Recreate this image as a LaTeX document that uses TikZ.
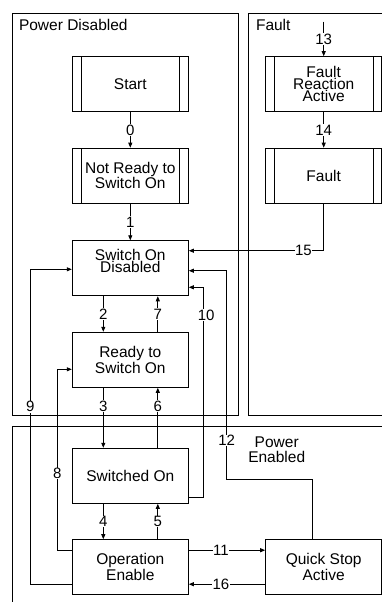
\documentclass[tikz,border=0pt]{standalone}
\usepackage{fontspec}
\setmainfont{Liberation Sans}
\usepackage{xcolor}
\usetikzlibrary{positioning,shapes,arrows.meta,shapes.geometric}

\begin{document}
\begin{tikzpicture}[x=1pt,y=-1pt,
    etat/.style={draw, line width=1pt, minimum width=116pt, minimum height=55pt, inner sep=0pt, align=center, font=\fontsize{15.5}{12.4}\selectfont},
    etatbarre/.style={etat, path picture={
        \draw[line width=0.8pt] ([xshift=8.7pt]path picture bounding box.north west) -- ([xshift=8.7pt]path picture bounding box.south west);
        \draw[line width=0.8pt] ([xshift=-8.7pt]path picture bounding box.north east) -- ([xshift=-8.7pt]path picture bounding box.south east);}},
    fleche/.style={-{Triangle[length=5pt,width=4pt]}, line width=0.8pt},
    num/.style={fill=white, inner sep=0.6pt, font=\fontsize{15}{15}\selectfont},
    cadre/.style={line width=0.8pt}]
                \useasboundingbox (0,0) rectangle (382,602);
                % cadres
                \draw[cadre] (12,13.3) rectangle (238.3,415);
                \draw[cadre] (382,13.3) -- (248.7,13.3) -- (248.7,415) -- (382,415);
                \draw[cadre] (382,426) -- (12,426) -- (12,602);
                \node[anchor=base west, font=\fontsize{15.5}{15.5}\selectfont] (lbldisabled) at (15.5,30.7) {Power Disabled};
                \node[anchor=base west, font=\fontsize{15.5}{15.5}\selectfont] (lblfault) at (252.5,30.7) {Fault};
                \node[align=center, font=\fontsize{15.5}{14.6}\selectfont] (lblenabled) at (276.7,450) {Power\\Enabled};
                % etats
                \node[etatbarre] (start) at (130.3,84.2) {Start};
                \node[etatbarre] (notready) at (130.3,175.7) {Not Ready to\\Switch On};
                \node[etat] (swondis) at (130.3,268.3) {Switch On\\Disabled\\[3pt]};
                \node[etat] (ready) at (130.3,359.8) {Ready to\\Switch On};
                \node[etat] (swon) at (130.3,475.8) {Switched On};
                \node[etat, font=\fontsize{15.5}{16}\selectfont] (openable) at (130.3,567.2) {Operation\\Enable};
                \node[etat, font=\fontsize{15.5}{16}\selectfont] (qstop) at (323.7,567.2) {Quick Stop\\Active};
                \node[etatbarre, font=\fontsize{15.5}{11.8}\selectfont] (faultreact) at (323.7,84.2) {Fault\\Reaction\\Active};
                \node[etatbarre] (fault) at (323.7,175.7) {Fault};
                % transitions
                \coordinate (in13) at (323.7,21.7);
                \draw[fleche] (in13) -- node[num]{13} (faultreact);
                \draw[fleche] (start) -- node[num]{0} (notready);
                \draw[fleche] (notready) -- node[num]{1} (swondis);
                \draw[fleche] (faultreact) -- node[num]{14} (fault);
                \draw[fleche] (fault.south) |- node[num,pos=0.575]{15} ([yshift=17.6pt]swondis.east);
                \draw[fleche] ([xshift=-27pt]swondis.south) -- node[num]{2} ([xshift=-27pt]ready.north);
                \draw[fleche] ([xshift=27.5pt]ready.north) -- node[num]{7} ([xshift=27.5pt]swondis.south);
                \draw[fleche] ([xshift=-27pt]ready.south) -- node[num,pos=0.31]{3} ([xshift=-27pt]swon.north);
                \draw[fleche] ([xshift=27.5pt]swon.north) -- node[num,pos=0.69]{6} ([xshift=27.5pt]ready.south);
                \draw[fleche] ([xshift=-27pt]swon.south) -- node[num]{4} ([xshift=-27pt]openable.north);
                \draw[fleche] ([xshift=27.5pt]openable.north) -- node[num]{5} ([xshift=27.5pt]swon.south);
                \draw[fleche] ([yshift=17pt]openable.east) -- node[num,pos=0.42]{11} ([yshift=17pt]qstop.west);
                \draw[fleche] ([yshift=-17pt]qstop.west) -- node[num,pos=0.58]{16} ([yshift=-17pt]openable.east);
                \draw[fleche] ([yshift=-21.9pt]swon.east) -- ++(14.4,0) |- node[num,pos=0.434,xshift=3pt]{10} ([yshift=-19pt]swondis.east);
                \draw[fleche] ([yshift=16.5pt]openable.west) -- ++(-14.6,0) |- node[num,pos=0.213]{8} ([yshift=-9.5pt]ready.west);
                \draw[fleche] ([yshift=-17pt]openable.west) -- ++(-41.6,0) |- node[num,pos=0.282]{9} ([yshift=-1pt]swondis.west);
                \draw[fleche] ([xshift=-11pt]qstop.north) -- ++(0,-60) -- ++(-86,0) |- node[num,pos=0.093]{12} ([yshift=-2.4pt]swondis.east);
            \end{tikzpicture}
\end{document}
